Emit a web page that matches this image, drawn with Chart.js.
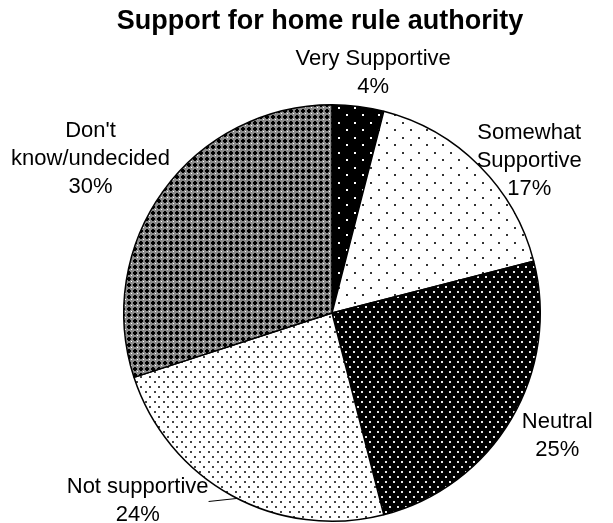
<!DOCTYPE html>
<html>
<head>
<meta charset="utf-8">
<script src="https://cdn.jsdelivr.net/npm/chart.js@4.4.1/dist/chart.umd.min.js"></script>
<style>
  body { margin: 0; background: #fff; }
  canvas { display: block; }
</style>
</head>
<body>
<canvas id="myChart" width="613" height="523"></canvas>
<script>
// chart data
const categories = ['Very Supportive', 'Somewhat Supportive', 'Neutral', 'Not supportive', "Don't know/undecided"];
const percents = [4, 17, 25, 24, 30];
const labelLines = [['Very Supportive'], ['Somewhat', 'Supportive'], ['Neutral'], ['Not supportive'], ["Don't", 'know/undecided']];
const titleText = 'Support for home rule authority';

// where each label block sits, relative to the slice's outer edge midpoint
const labelOffsets = [[15, -33], [50, -5], [46, 17], [-94, 5], [-73, -32]];

// small bitmap patterns, like the old excel fills
function makePattern(w, h, bg, fg, dots) {
    const c = document.createElement('canvas');
    c.width = w;
    c.height = h;
    const g = c.getContext('2d');
    g.fillStyle = bg;
    g.fillRect(0, 0, w, h);
    g.fillStyle = fg;
    dots.forEach(d => g.fillRect(d[0], d[1], d[2] || 2, d[3] || 2));
    return g.createPattern(c, 'repeat');
}

function makeCheck() {
    const c = document.createElement('canvas');
    c.width = 6;
    c.height = 6;
    const g = c.getContext('2d');
    g.fillStyle = '#8a8a8a';
    g.fillRect(0, 0, 6, 6);
    g.fillStyle = '#000';
    g.fillRect(2, 1, 2, 4);
    g.fillRect(1, 2, 4, 2);
    g.fillStyle = '#fff';
    g.fillRect(5, 5, 1, 1);
    return g.createPattern(c, 'repeat');
}

const ctx = document.getElementById('myChart').getContext('2d');

const fills = [
    makePattern(16, 15, '#000', '#fff', [[2, 2], [10, 9]]),
    makePattern(16, 15, '#fff', '#333', [[2, 2], [10, 9]]),
    makePattern(8, 10, '#000', '#e8e8e8', [[1, 1], [5, 6]]),
    makePattern(9, 10, '#fff', '#444', [[1, 1], [5, 6]]),
    makeCheck()
];

const labelPlugin = {
    id: 'sliceLabels',
    afterDraw(chart) {
        const c = chart.ctx;
        const arcs = chart.getDatasetMeta(0).data;
        c.save();
        // title
        c.fillStyle = '#000';
        c.textAlign = 'center';
        c.textBaseline = 'middle';
        c.font = 'bold 27px "Liberation Sans", Arial, sans-serif';
        c.fillText(titleText, 320, 22);

        c.font = '22px "Liberation Sans", Arial, sans-serif';
        arcs.forEach((arc, i) => {
            const p = arc.getProps(['x', 'y', 'startAngle', 'endAngle', 'outerRadius'], true);
            const mid = (p.startAngle + p.endAngle) / 2;
            const ex = p.x + Math.cos(mid) * p.outerRadius;
            const ey = p.y + Math.sin(mid) * p.outerRadius;
            const lines = labelLines[i].concat([percents[i] + '%']);
            const cx = ex + labelOffsets[i][0];
            const cy = ey + labelOffsets[i][1];
            const lh = 28;
            lines.forEach((t, k) => {
                c.fillText(t, cx, cy + (k - (lines.length - 1) / 2) * lh);
            });
            if (i === 3) {
                // leader line for "Not supportive", runs to the pie edge
                const w = c.measureText(labelLines[i][0]).width;
                const a = mid - 0.03;
                c.strokeStyle = '#000';
                c.lineWidth = 1;
                c.beginPath();
                c.moveTo(cx + w / 2, cy + 1);
                c.lineTo(p.x + Math.cos(a) * p.outerRadius, p.y + Math.sin(a) * p.outerRadius);
                c.stroke();
            }
        });
        c.restore();
    }
};

new Chart(ctx, {
    type: 'pie',
    data: {
        labels: categories,
        datasets: [{
            data: percents,
            backgroundColor: fills,
            borderColor: '#000',
            borderWidth: 1.5
        }]
    },
    options: {
        responsive: false,
        animation: false,
        layout: { padding: { top: 104, left: 123, right: 72, bottom: 1 } },
        plugins: {
            legend: { display: false },
            tooltip: { enabled: false },
            title: { display: false }
        }
    },
    plugins: [labelPlugin]
});
</script>
</body>
</html>
